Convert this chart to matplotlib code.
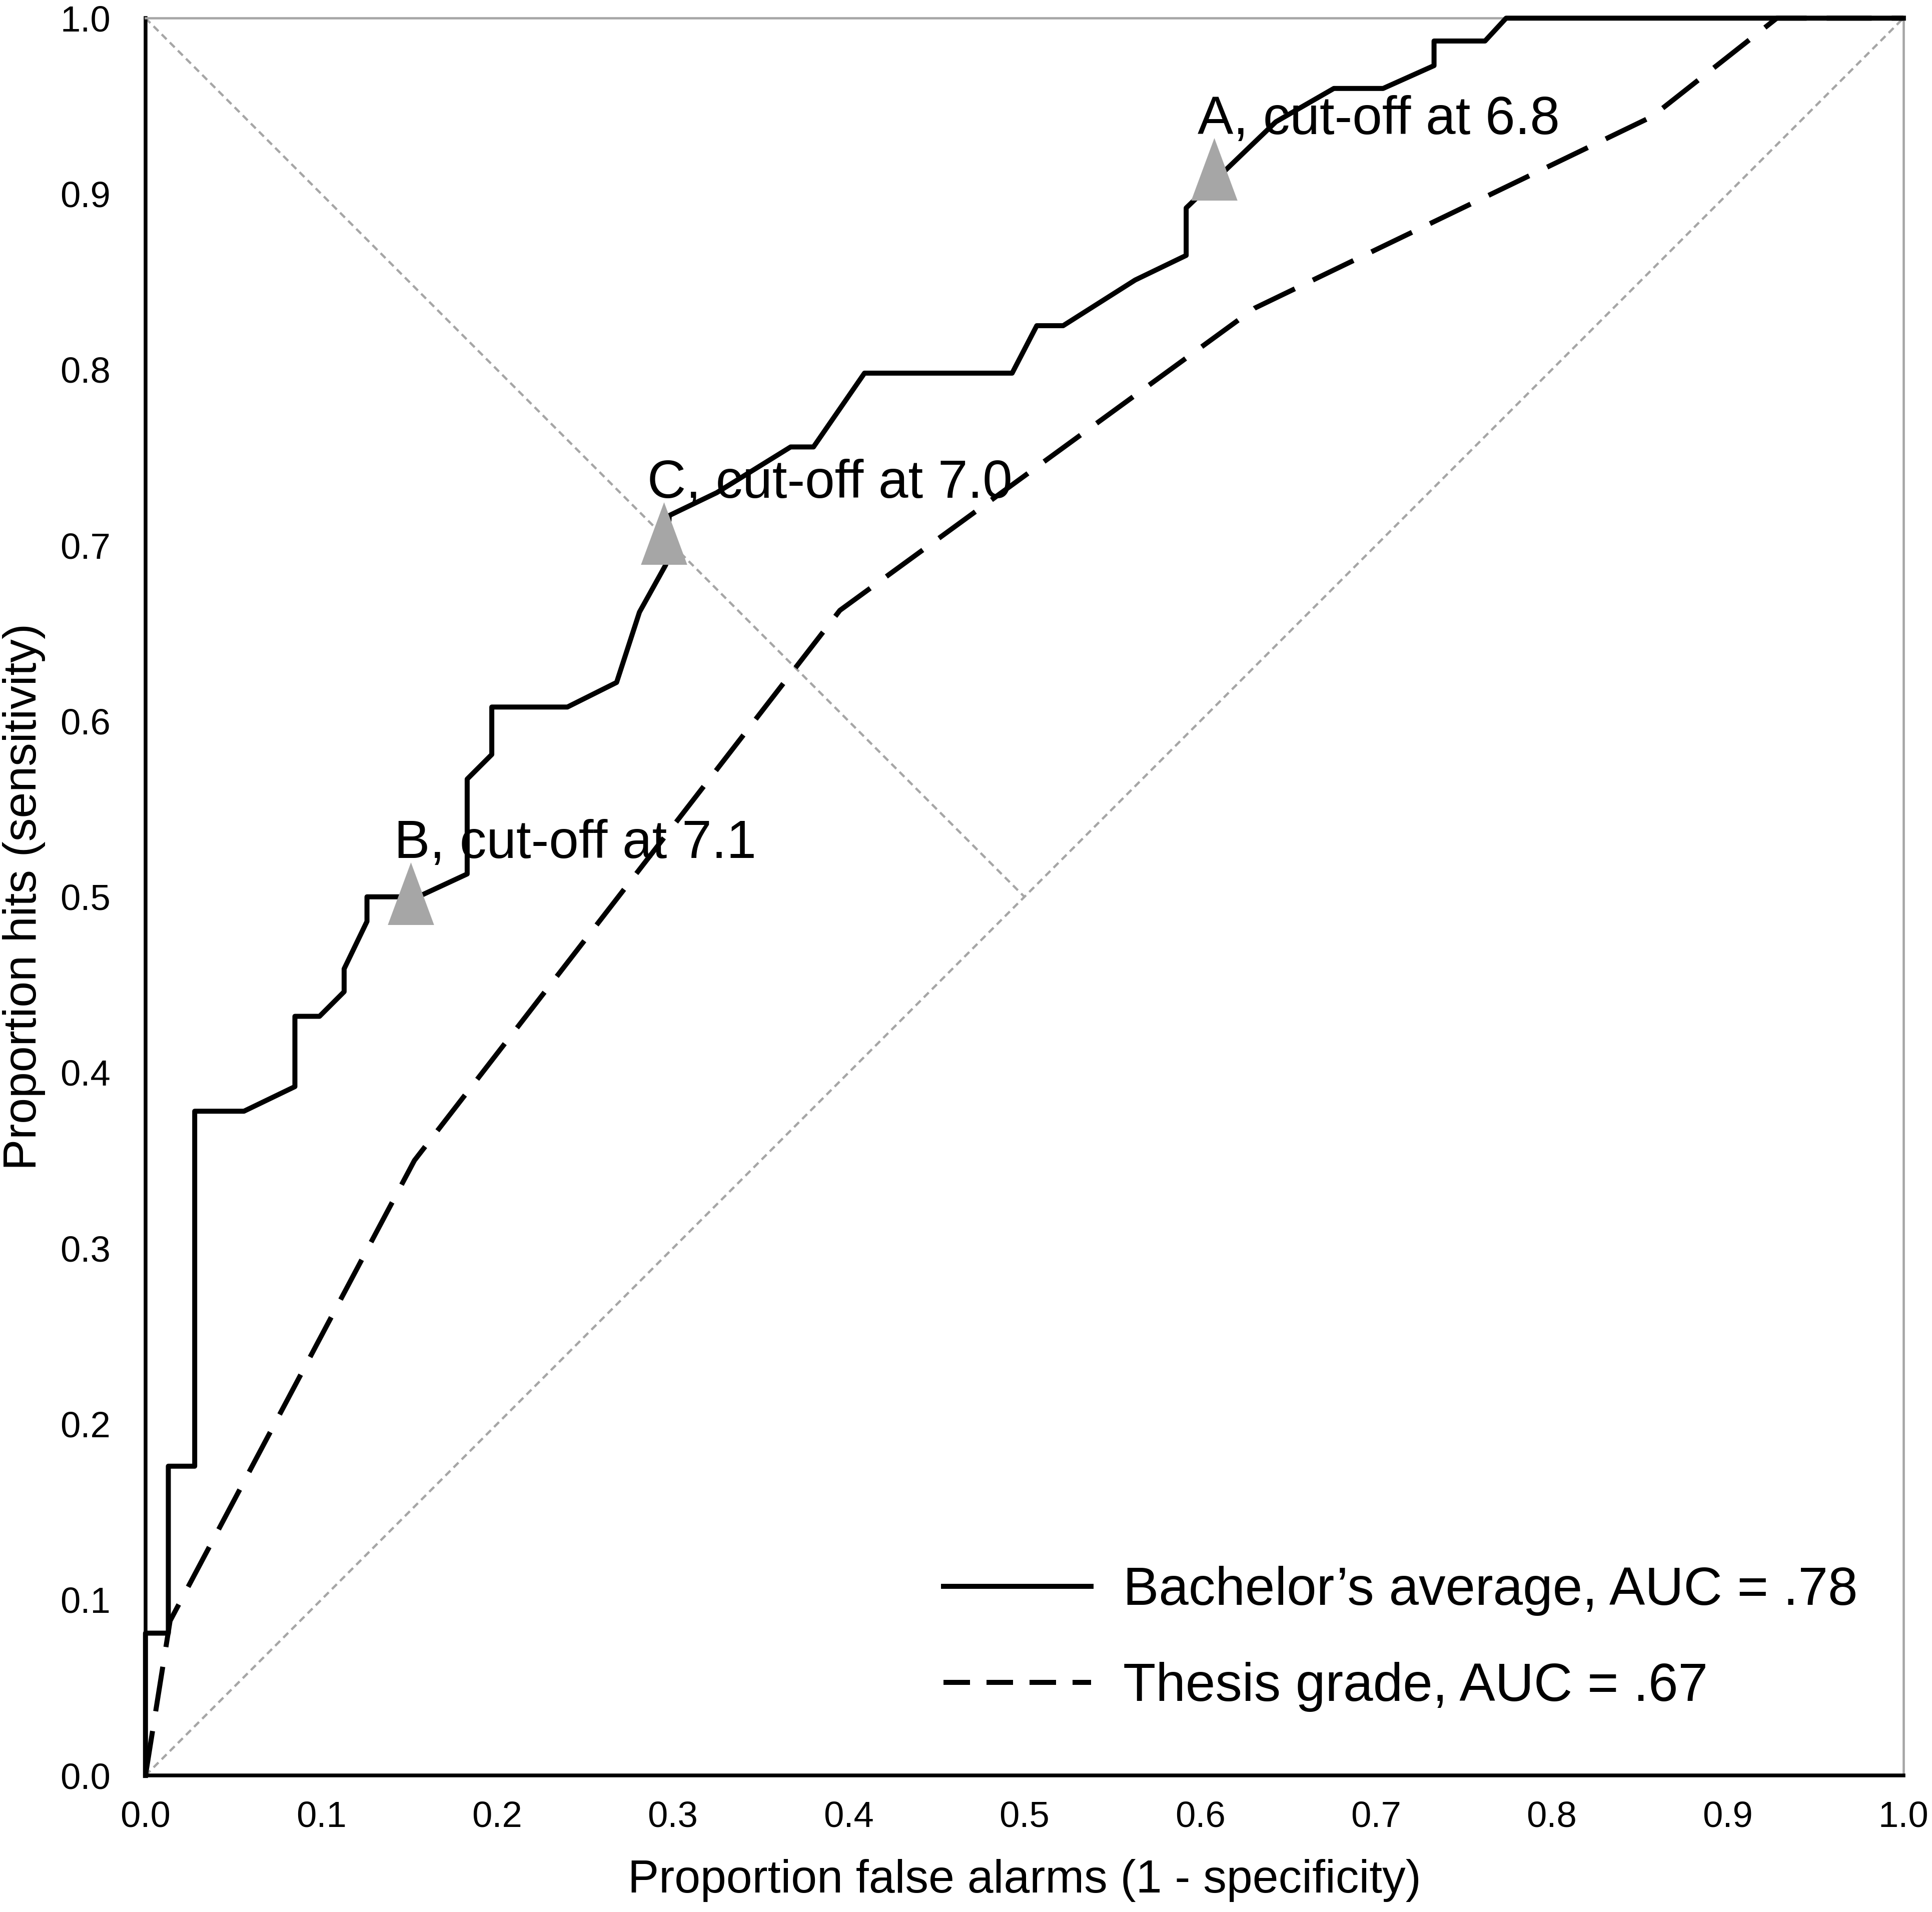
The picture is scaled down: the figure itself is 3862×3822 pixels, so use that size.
import matplotlib
matplotlib.use('Agg')
import matplotlib.pyplot as plt
from matplotlib.lines import Line2D

# ROC curve for bachelor's average (solid)
bach_fa = [0, 0, 0.013, 0.013, 0.028, 0.028, 0.056, 0.085, 0.085, 0.099,
           0.113, 0.113, 0.126, 0.126, 0.155, 0.183, 0.183, 0.197, 0.197,
           0.240, 0.268, 0.281, 0.296, 0.298, 0.325, 0.367, 0.380, 0.409,
           0.493, 0.507, 0.522, 0.563, 0.592, 0.592, 0.643, 0.676, 0.704,
           0.733, 0.733, 0.762, 0.774, 1.0]
bach_hits = [0, 0.081, 0.081, 0.176, 0.176, 0.378, 0.378, 0.392, 0.432, 0.432,
             0.446, 0.459, 0.486, 0.500, 0.500, 0.513, 0.567, 0.581, 0.608,
             0.608, 0.622, 0.662, 0.689, 0.717, 0.730, 0.756, 0.756, 0.798,
             0.798, 0.825, 0.825, 0.851, 0.865, 0.892, 0.941, 0.960, 0.960,
             0.973, 0.987, 0.987, 1.0, 1.0]

# ROC curve for thesis grade (dashed)
thesis_fa = [0, 0.014, 0.153, 0.395, 0.631, 0.857, 0.928, 1.0]
thesis_hits = [0, 0.088, 0.350, 0.663, 0.835, 0.944, 1.0, 1.0]

# marked cut-off points
cut_fa = [0.608, 0.151, 0.295]
cut_hits = [0.914, 0.502, 0.707]
cut_labels = ['A, cut-off at 6.8', 'B, cut-off at 7.1', 'C, cut-off at 7.0']

legend_labels = ['Bachelor\u2019s average, AUC = .78', 'Thesis grade, AUC = .67']
ticks = [0.0, 0.1, 0.2, 0.3, 0.4, 0.5, 0.6, 0.7, 0.8, 0.9, 1.0]

plt.rcParams['font.family'] = ['Liberation Sans', 'DejaVu Sans']
grey = '#A6A6A6'

fig = plt.figure(figsize=(3862 / 300, 3822 / 300), dpi=300)
ax = fig.add_axes([0.0753, 0.0714, 0.9099, 0.9191])
ax.set_xlim(0, 1)
ax.set_ylim(0, 1)

# reference diagonals
ax.plot([0, 1], [0, 1], color=grey, lw=1.1, dashes=(3, 2), zorder=1)
ax.plot([0, 0.5], [1, 0.5], color=grey, lw=1.1, dashes=(3, 2), zorder=1)

ax.plot(thesis_fa, thesis_hits, color='black', lw=2.4, dashes=(9, 4),
        clip_on=False, zorder=3)
ax.plot(bach_fa, bach_hits, color='black', lw=2.4, clip_on=False, zorder=3)

# tall grey triangles
tri = [(-0.37, -0.5), (0.37, -0.5), (0, 0.5), (-0.37, -0.5)]
ax.plot(cut_fa, cut_hits, linestyle='none', marker=tri, markersize=30,
        markerfacecolor=grey, markeredgecolor='none', zorder=4)
for xv, yv, lab in zip(cut_fa, cut_hits, cut_labels):
    ax.annotate(lab, (xv, yv), xytext=(-8, 17), textcoords='offset points',
                ha='left', va='baseline', fontsize=25.7, zorder=5)

# legend
handles = [Line2D([0], [0], color='black', lw=2.4),
           Line2D([0], [0], color='black', lw=2.4, dashes=(5.3, 3.3))]
ax.legend(handles, legend_labels, loc='center left',
          bbox_to_anchor=(0.454, 0.0777), frameon=False, borderpad=0,
          borderaxespad=0, handlelength=2.75, handletextpad=0.6,
          labelspacing=0.86, fontsize=25.7)

# axes styling
for side in ['left', 'bottom']:
    ax.spines[side].set_color('black')
    ax.spines[side].set_linewidth(1.8)
for side in ['top', 'right']:
    ax.spines[side].set_color(grey)
    ax.spines[side].set_linewidth(1.1)

ax.set_xticks(ticks)
ax.set_yticks(ticks)
ax.set_xticklabels(['%.1f' % t for t in ticks])
ax.set_yticklabels(['%.1f' % t for t in ticks])
ax.tick_params(axis='both', length=0, labelsize=17.4)
ax.tick_params(axis='x', pad=12)
ax.tick_params(axis='y', pad=16.8)

ax.set_xlabel('Proportion false alarms (1 - specificity)', fontsize=22.4,
              labelpad=12)
ax.set_ylabel('Proportion hits (sensitivity)', fontsize=22.4, labelpad=7)

fig.savefig('out.png', dpi=300)
